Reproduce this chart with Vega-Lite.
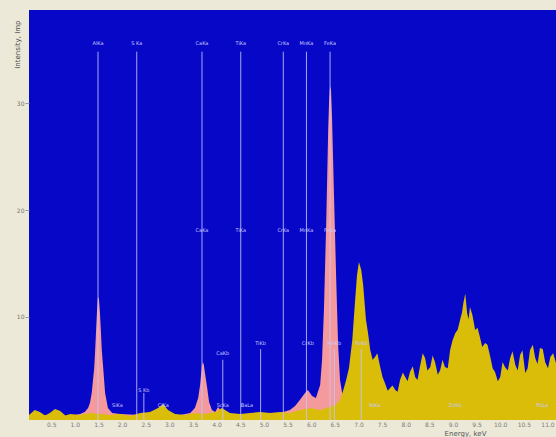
{
  "$schema": "https://vega.github.io/schema/vega-lite/v6.json",
  "width": 527,
  "height": 410,
  "autosize": {"type": "none"},
  "padding": {"left": 29, "top": 10, "right": 0, "bottom": 17},
  "background": "#ece9d8",
  "config": {
    "view": {"fill": "#0707c8", "stroke": null},
    "font": "DejaVu Sans"
  },
  "datasets": {
    "pink": [
      {"E": 0.03, "c": 0.75}, {"E": 0.47, "c": 0.84}, {"E": 0.90, "c": 0.75}, {"E": 1.11, "c": 0.93},
      {"E": 1.21, "c": 1.12}, {"E": 1.28, "c": 1.50}, {"E": 1.32, "c": 1.96}, {"E": 1.36, "c": 2.99},
      {"E": 1.38, "c": 3.93}, {"E": 1.41, "c": 5.23}, {"E": 1.43, "c": 6.92}, {"E": 1.45, "c": 8.79},
      {"E": 1.47, "c": 10.65}, {"E": 1.49, "c": 11.87}, {"E": 1.51, "c": 11.68}, {"E": 1.53, "c": 10.47},
      {"E": 1.55, "c": 8.79}, {"E": 1.57, "c": 6.92}, {"E": 1.60, "c": 5.23}, {"E": 1.64, "c": 2.90},
      {"E": 1.70, "c": 1.50}, {"E": 1.79, "c": 1.03}, {"E": 1.96, "c": 0.93}, {"E": 2.38, "c": 0.84},
      {"E": 2.80, "c": 0.93}, {"E": 3.23, "c": 0.84}, {"E": 3.44, "c": 1.03}, {"E": 3.54, "c": 1.50},
      {"E": 3.61, "c": 2.43}, {"E": 3.65, "c": 3.64}, {"E": 3.67, "c": 4.58}, {"E": 3.69, "c": 5.42},
      {"E": 3.71, "c": 5.79}, {"E": 3.73, "c": 5.51}, {"E": 3.75, "c": 4.86}, {"E": 3.80, "c": 3.36},
      {"E": 3.84, "c": 2.06}, {"E": 3.90, "c": 1.31}, {"E": 3.97, "c": 1.12}, {"E": 4.03, "c": 1.59},
      {"E": 4.09, "c": 1.21}, {"E": 4.18, "c": 0.93}, {"E": 4.50, "c": 0.84}, {"E": 4.92, "c": 0.93},
      {"E": 5.34, "c": 1.03}, {"E": 5.55, "c": 1.31}, {"E": 5.66, "c": 1.68}, {"E": 5.76, "c": 2.24},
      {"E": 5.87, "c": 2.90}, {"E": 5.93, "c": 3.18}, {"E": 6.02, "c": 2.62}, {"E": 6.10, "c": 2.43},
      {"E": 6.19, "c": 3.64}, {"E": 6.23, "c": 5.98}, {"E": 6.27, "c": 10.65}, {"E": 6.32, "c": 19.07},
      {"E": 6.36, "c": 27.48}, {"E": 6.38, "c": 30.28}, {"E": 6.40, "c": 31.59}, {"E": 6.42, "c": 31.21},
      {"E": 6.44, "c": 28.88}, {"E": 6.48, "c": 21.87}, {"E": 6.53, "c": 13.46}, {"E": 6.57, "c": 7.38},
      {"E": 6.61, "c": 4.11}, {"E": 6.68, "c": 2.24}, {"E": 6.74, "c": 1.31}, {"E": 6.82, "c": 0.84},
      {"E": 11.18, "c": 0.84}
    ],
    "yellow": [
      {"E": 0.03, "c": 0.84}, {"E": 0.15, "c": 1.30}, {"E": 0.26, "c": 1.12}, {"E": 0.37, "c": 0.80}, {"E": 0.47, "c": 1.03},
      {"E": 0.58, "c": 1.40}, {"E": 0.69, "c": 1.21}, {"E": 0.80, "c": 0.80},
      {"E": 0.90, "c": 0.93}, {"E": 1.11, "c": 0.84}, {"E": 1.32, "c": 1.03}, {"E": 1.53, "c": 0.93},
      {"E": 1.74, "c": 0.84}, {"E": 1.96, "c": 0.93}, {"E": 2.17, "c": 0.75}, {"E": 2.38, "c": 1.03},
      {"E": 2.59, "c": 1.12}, {"E": 2.76, "c": 1.50}, {"E": 2.87, "c": 1.87}, {"E": 2.97, "c": 1.31},
      {"E": 3.12, "c": 0.93}, {"E": 3.33, "c": 0.84}, {"E": 3.54, "c": 1.03}, {"E": 3.75, "c": 0.93},
      {"E": 3.97, "c": 1.12}, {"E": 4.11, "c": 1.50}, {"E": 4.28, "c": 1.03}, {"E": 4.50, "c": 0.93},
      {"E": 4.71, "c": 1.03}, {"E": 4.92, "c": 1.12}, {"E": 5.13, "c": 1.03}, {"E": 5.34, "c": 1.12},
      {"E": 5.55, "c": 1.03}, {"E": 5.76, "c": 1.31}, {"E": 5.98, "c": 1.50}, {"E": 6.19, "c": 1.31},
      {"E": 6.40, "c": 1.59}, {"E": 6.51, "c": 1.78}, {"E": 6.61, "c": 2.24}, {"E": 6.68, "c": 3.18},
      {"E": 6.74, "c": 4.11}, {"E": 6.80, "c": 5.23}, {"E": 6.87, "c": 7.85}, {"E": 6.93, "c": 11.59},
      {"E": 6.97, "c": 13.93}, {"E": 7.01, "c": 15.14}, {"E": 7.06, "c": 14.39}, {"E": 7.10, "c": 12.99},
      {"E": 7.16, "c": 9.72}, {"E": 7.20, "c": 8.60}, {"E": 7.25, "c": 6.92}, {"E": 7.30, "c": 6.00},
      {"E": 7.35, "c": 6.26}, {"E": 7.40, "c": 6.60}, {"E": 7.46, "c": 5.33}, {"E": 7.51, "c": 4.40},
      {"E": 7.56, "c": 3.83}, {"E": 7.62, "c": 3.10}, {"E": 7.67, "c": 3.36}, {"E": 7.72, "c": 3.60},
      {"E": 7.78, "c": 3.18}, {"E": 7.83, "c": 3.00}, {"E": 7.88, "c": 4.11}, {"E": 7.94, "c": 4.80},
      {"E": 7.99, "c": 4.39}, {"E": 8.04, "c": 4.00}, {"E": 8.09, "c": 4.86}, {"E": 8.15, "c": 5.40},
      {"E": 8.20, "c": 4.39}, {"E": 8.25, "c": 4.10}, {"E": 8.30, "c": 5.33}, {"E": 8.36, "c": 6.60},
      {"E": 8.41, "c": 6.17}, {"E": 8.46, "c": 5.00}, {"E": 8.52, "c": 5.33}, {"E": 8.57, "c": 6.40},
      {"E": 8.62, "c": 5.79}, {"E": 8.68, "c": 4.60}, {"E": 8.73, "c": 5.05}, {"E": 8.78, "c": 6.00},
      {"E": 8.83, "c": 5.33}, {"E": 8.89, "c": 5.20}, {"E": 8.94, "c": 6.92}, {"E": 8.99, "c": 7.80},
      {"E": 9.05, "c": 8.50}, {"E": 9.10, "c": 8.80}, {"E": 9.15, "c": 9.72}, {"E": 9.19, "c": 10.40},
      {"E": 9.22, "c": 11.31}, {"E": 9.26, "c": 12.20}, {"E": 9.30, "c": 10.37}, {"E": 9.33, "c": 9.80},
      {"E": 9.36, "c": 10.93}, {"E": 9.41, "c": 10.20}, {"E": 9.47, "c": 8.79}, {"E": 9.52, "c": 9.00},
      {"E": 9.57, "c": 8.13}, {"E": 9.62, "c": 7.20}, {"E": 9.68, "c": 7.57}, {"E": 9.73, "c": 7.40},
      {"E": 9.79, "c": 6.26}, {"E": 9.84, "c": 5.20}, {"E": 9.89, "c": 4.86}, {"E": 9.95, "c": 4.00},
      {"E": 10.00, "c": 4.39}, {"E": 10.05, "c": 5.80}, {"E": 10.10, "c": 5.33}, {"E": 10.16, "c": 5.00},
      {"E": 10.21, "c": 6.17}, {"E": 10.26, "c": 6.80}, {"E": 10.32, "c": 5.51}, {"E": 10.37, "c": 5.00},
      {"E": 10.42, "c": 6.45}, {"E": 10.47, "c": 6.90}, {"E": 10.53, "c": 4.77}, {"E": 10.58, "c": 5.20},
      {"E": 10.63, "c": 6.92}, {"E": 10.69, "c": 7.40}, {"E": 10.74, "c": 6.17}, {"E": 10.79, "c": 5.60},
      {"E": 10.84, "c": 7.10}, {"E": 10.90, "c": 7.00}, {"E": 10.95, "c": 5.79}, {"E": 11.01, "c": 5.20},
      {"E": 11.06, "c": 6.26}, {"E": 11.12, "c": 6.60}, {"E": 11.18, "c": 5.70}
    ],
    "lines": [
      {"E": 1.49, "top": 34.8}, {"E": 2.31, "top": 34.8}, {"E": 3.69, "top": 34.8},
      {"E": 4.51, "top": 34.8}, {"E": 5.41, "top": 34.8}, {"E": 5.90, "top": 34.8},
      {"E": 6.40, "top": 34.8}, {"E": 2.46, "top": 2.9}, {"E": 4.13, "top": 6.0},
      {"E": 4.93, "top": 7.0}, {"E": 6.49, "top": 7.0}, {"E": 7.06, "top": 7.0}
    ],
    "labels": [
      {"E": 1.49, "y": 35.6, "t": "AlKa"}, {"E": 2.31, "y": 35.6, "t": "S Ka"},
      {"E": 3.69, "y": 35.6, "t": "CaKa"}, {"E": 4.51, "y": 35.6, "t": "TiKa"},
      {"E": 5.41, "y": 35.6, "t": "CrKa"}, {"E": 5.90, "y": 35.6, "t": "MnKa"},
      {"E": 6.40, "y": 35.6, "t": "FeKa"},
      {"E": 3.69, "y": 18.1, "t": "CaKa"}, {"E": 4.51, "y": 18.1, "t": "TiKa"},
      {"E": 5.41, "y": 18.1, "t": "CrKa"}, {"E": 5.90, "y": 18.1, "t": "MnKa"},
      {"E": 6.40, "y": 18.1, "t": "FeKa"},
      {"E": 4.13, "y": 6.6, "t": "CaKb"}, {"E": 4.93, "y": 7.6, "t": "TiKb"},
      {"E": 5.93, "y": 7.6, "t": "CrKb"}, {"E": 6.49, "y": 7.6, "t": "MnKb"},
      {"E": 7.06, "y": 7.6, "t": "FeKb"}, {"E": 2.46, "y": 3.2, "t": "S Kb"},
      {"E": 1.90, "y": 1.8, "t": "SiKa"}, {"E": 2.87, "y": 1.8, "t": "ClKa"},
      {"E": 4.13, "y": 1.8, "t": "ScKa"}, {"E": 4.64, "y": 1.8, "t": "BaLa"},
      {"E": 7.35, "y": 1.8, "t": "NiKa"}, {"E": 9.05, "y": 1.8, "t": "ZnKb"},
      {"E": 10.89, "y": 1.8, "t": "PbLa"}
    ]
  },
  "encoding": {
    "x": {
      "field": "E", "type": "quantitative",
      "scale": {"domain": [0.03, 11.18], "nice": false, "zero": false},
      "axis": {
        "values": [0.5, 1.0, 1.5, 2.0, 2.5, 3.0, 3.5, 4.0, 4.5, 5.0, 5.5, 6.0, 6.5, 7.0, 7.5, 8.0, 8.5, 9.0, 9.5, 10.0, 10.5, 11.0],
        "format": ".1f", "labelFontSize": 6, "labelColor": "#7a7a7a", "labelPadding": 1,
        "ticks": false, "domain": false, "grid": false,
        "title": "Energy, keV", "titleFontSize": 7, "titleFontWeight": "normal", "titleColor": "#555555",
        "titleX": 436, "titleY": 9
      }
    }
  },
  "layer": [
    {
      "data": {"name": "pink"},
      "mark": {"type": "area", "color": "#f59a9c", "clip": true, "interpolate": "linear"},
      "encoding": {
        "y": {
          "field": "c", "type": "quantitative",
          "scale": {"domain": [0.37, 38.7], "nice": false, "zero": false},
          "axis": {
            "values": [10, 20, 30], "labelFontSize": 6, "labelColor": "#777777",
            "tickColor": "#999999", "tickSize": 4, "domain": false, "grid": false, "labelPadding": 1,
            "title": "Intensity, Imp", "titleFontSize": 7, "titleFontWeight": "normal",
            "titleColor": "#444444", "titleAnchor": "end", "titleX": -9, "titleY": 10, "titleAlign": "right"
          }
        },
        "y2": {"datum": 0.37}
      }
    },
    {
      "data": {"name": "yellow"},
      "mark": {"type": "area", "color": "#d9bd08", "clip": true, "interpolate": "linear"},
      "encoding": {"y": {"field": "c", "type": "quantitative"}, "y2": {"datum": 0.37}}
    },
    {
      "data": {"name": "lines"},
      "mark": {"type": "rule", "color": "#c4c4ff", "strokeWidth": 1, "opacity": 0.85, "clip": true},
      "encoding": {"y": {"field": "top", "type": "quantitative"}, "y2": {"datum": 0.37}}
    },
    {
      "data": {"name": "labels"},
      "mark": {"type": "text", "color": "#c8c8ff", "fontSize": 5, "baseline": "middle", "align": "center"},
      "encoding": {"y": {"field": "y", "type": "quantitative"}, "text": {"field": "t"}}
    }
  ]
}
